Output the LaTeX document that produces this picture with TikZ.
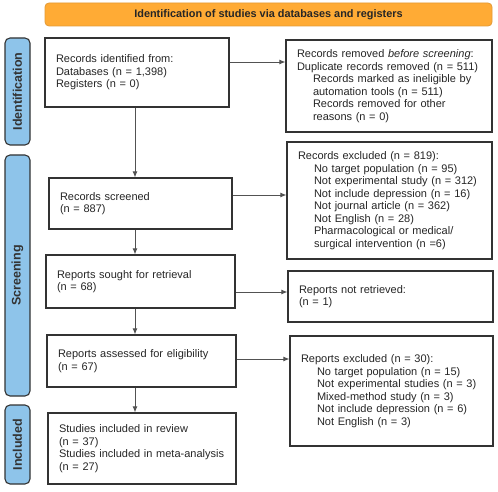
\documentclass[tikz,border=0pt]{standalone}
\usepackage{fontspec}
\setmainfont{Liberation Sans}
\usetikzlibrary{arrows.meta,positioning}
\definecolor{prisOrange}{HTML}{FFAB35}
\definecolor{prisOrangeD}{HTML}{E39A35}
\definecolor{prisBlue}{HTML}{8EC4EA}
\definecolor{prisLine}{HTML}{333333}
\newcommand{\indt}{\hspace*{16pt}}

\begin{document}
\begin{tikzpicture}[x=1pt,y=-1pt,
  box/.style={draw=prisLine,line width=1.3pt,align=left,font=\fontsize{11}{12.5}\selectfont,
              text=black!85,inner xsep=11pt,inner ysep=0pt},
  side/.style={draw=prisLine,line width=1.1pt,fill=prisBlue,rounded corners=5pt,rotate=90,
               minimum height=25pt,inner sep=0pt,font=\bfseries\fontsize{12.5}{14}\selectfont,text=prisLine},
  arr/.style={-{Latex[length=6pt,width=5pt]},line width=0.8pt,draw=prisLine!85}]
  \useasboundingbox[fill=white] (0,0) rectangle (498,492);
  % header and phase bars
  \node[draw=prisOrangeD,fill=prisOrange,rounded corners=4pt,line width=0.8pt,minimum width=447pt,
        minimum height=23pt,font=\bfseries\fontsize{10.9}{12}\selectfont,text=black!85] (head) at (268.5,14.5)
        {Identification of studies via databases and registers};
  \node[side,minimum width=107pt] (idbar) at (17.5,91.5) {Identification};
  \node[side,minimum width=241pt] (scbar) at (17.5,275.5) {Screening};
  \node[side,minimum width=79pt] (inbar) at (17.5,444.5) {Included};
  % main column
  \node[box,text width=162pt,minimum height=69pt] (ident) at (137,72.5)
    {Records identified from:\\Databases (n = 1,398)\\Registers (n = 0)};
  \node[box,text width=161pt,minimum height=51pt] (screened) at (140.5,203.5)
    {Records screened\\(n = 887)};
  \node[box,text width=167pt,minimum height=53pt] (sought) at (140.5,281.5)
    {Reports sought for retrieval\\(n = 68)};
  \node[box,text width=167pt,minimum height=52pt] (assessed) at (141.5,361)
    {Reports assessed for eligibility\\(n = 67)};
  \node[box,text width=166pt,minimum height=71pt] (incl) at (142,448.5)
    {Studies included in review\\(n = 37)\\Studies included in meta-analysis\\(n = 27)};
  % side column
  \node[box,text width=184pt,minimum height=92pt] (removed) at (389,86)
    {Records removed \textit{before screening}:\\Duplicate records removed (n = 511)\\
     \indt Records marked as ineligible by\\\indt automation tools (n = 511)\\
     \indt Records removed for other\\\indt reasons (n = 0)};
  \node[box,text width=183pt,minimum height=117pt] (excl1) at (389.5,200.5)
    {Records excluded (n = 819):\\\indt No target population (n = 95)\\
     \indt Not experimental study (n = 312)\\\indt Not include depression (n = 16)\\
     \indt Not journal article (n = 362)\\\indt Not English (n = 28)\\
     \indt Pharmacological or medical/\\\indt surgical intervention (n =6)};
  \node[box,text width=183pt,minimum height=51pt] (notret) at (390.5,296.5)
    {Reports not retrieved:\\(n = 1)};
  \node[box,text width=181pt,minimum height=110pt] (excl2) at (391.5,391)
    {Reports excluded (n = 30):\\\indt No target population (n = 15)\\
     \indt Not experimental studies (n = 3)\\\indt Mixed-method study (n = 3)\\
     \indt Not include depression (n = 6)\\\indt Not English (n = 3)};
  % flow
  \coordinate (col) at (135,0);
  \draw[arr] (ident.south -| col) -- (screened.north -| col);
  \draw[arr] (screened.south -| col) -- (sought.north -| col);
  \draw[arr] (sought.south -| col) -- (assessed.north -| col);
  \draw[arr] (assessed.south -| col) -- (incl.north -| col);
  \draw[arr] (ident.east) ++(0,-10.5) coordinate (a1) -- (a1 -| removed.west);
  \draw[arr] (screened.east) ++(0,-8.5) coordinate (a2) -- (a2 -| excl1.west);
  \draw[arr] (sought.east) ++(0,10.5) coordinate (a3) -- (a3 -| notret.west);
  \draw[arr] (assessed.east) ++(0,-2) coordinate (a4) -- (a4 -| excl2.west);
\end{tikzpicture}
\end{document}
